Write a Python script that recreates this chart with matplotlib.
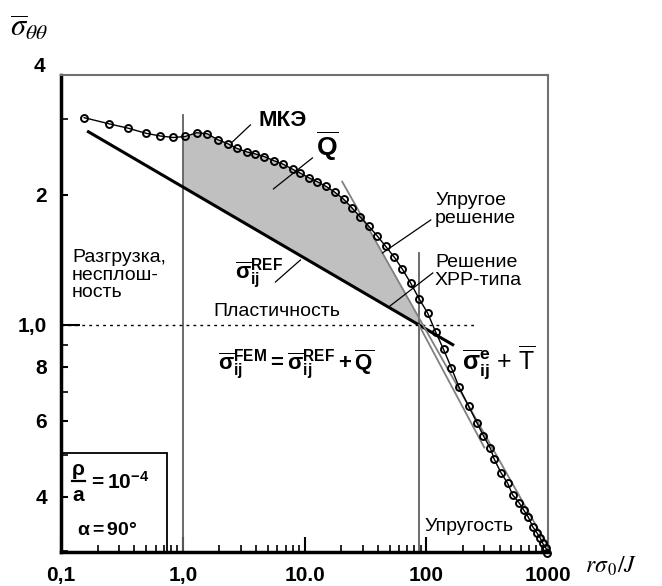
import matplotlib
matplotlib.use('Agg')
import matplotlib.pyplot as plt
import numpy as np
from matplotlib.patches import Rectangle

plt.rcParams['font.family'] = ['Liberation Sans', 'DejaVu Sans']
plt.rcParams['mathtext.fontset'] = 'custom'
plt.rcParams['mathtext.rm'] = 'Liberation Sans'
plt.rcParams['mathtext.it'] = 'Liberation Sans:italic'
plt.rcParams['mathtext.bf'] = 'Liberation Sans:bold'

# FEM (МКЭ) points
fem_x = [0.155, 0.250, 0.358, 0.498, 0.653, 0.835, 1.049, 1.304, 1.591, 1.930,
         2.333, 2.767, 3.363, 3.951, 4.686, 5.620, 6.653, 7.998, 9.20, 10.85,
         12.72, 15.03, 17.73, 20.94, 24.51, 28.51, 33.82, 39.44, 46.42, 54.84,
         63.7, 74.6, 87.3, 102.9, 119.7, 138.6, 161.2, 186.2, 222.5, 260.4,
         294.5, 336.3, 361.4, 410.5, 466.0, 512.2, 580.4, 631.0, 688.5, 748.4,
         811.8, 864.4, 904.6, 962.7, 981.0]
fem_y = [3.019, 2.920, 2.853, 2.778, 2.738, 2.716, 2.731, 2.786, 2.771, 2.686,
         2.630, 2.565, 2.515, 2.488, 2.453, 2.400, 2.357, 2.293, 2.248, 2.191,
         2.146, 2.093, 2.029, 1.955, 1.867, 1.781, 1.691, 1.609, 1.520, 1.433,
         1.346, 1.249, 1.150, 1.064, 0.962, 0.878, 0.794, 0.717, 0.649, 0.594,
         0.554, 0.518, 0.489, 0.455, 0.430, 0.404, 0.387, 0.373, 0.359, 0.341,
         0.330, 0.321, 0.312, 0.304, 0.297]

# HRR-type reference solution (power law, end points)
ref_x = [0.168, 165.0]
ref_y = [2.80, 0.90]

# elastic solution (power law, end points)
el_x = [20.4, 1000.0]
el_y = [2.146, 0.3066]

# elastic + T line
et_x = [87.0, 300.0]
et_y = [1.0, 0.52]

x_ticks = [0.1, 1.0, 10.0, 100.0, 1000.0]
x_tick_labels = ['0,1', '1,0', '10.0', '100', '1000']
y_ticks = [0.4, 0.6, 0.8, 1.0, 2.0]
y_tick_labels = ['4', '6', '8', '1,0', '2']

x_left = 1.0
x_right = 87.0


def power_line(xs, ys, x):
    lx = np.log10(xs)
    ly = np.log10(ys)
    k = (ly[1] - ly[0]) / (lx[1] - lx[0])
    return 10 ** (ly[0] + k * (np.log10(x) - lx[0]))


fig = plt.figure(figsize=(6.62, 5.86), dpi=100)
ax = fig.add_axes([61 / 662, 34 / 586, 487 / 662, 477 / 586])
ax.set_xscale('log')
ax.set_yscale('log')
ax.set_xlim(0.1, 1000)
ax.set_ylim(0.298, 3.79)

# shaded region between FEM curve (capped by elastic line) and REF line
gx = np.logspace(np.log10(x_left), np.log10(97.6), 300)
fem_i = 10 ** np.interp(np.log10(gx), np.log10(fem_x), np.log10(fem_y))
top = np.minimum(fem_i, power_line(el_x, el_y, gx))
bot = power_line(ref_x, ref_y, gx)
ax.fill_between(gx, bot, top, where=top >= bot, color='#c0c0c0', lw=0, zorder=1)

ax.plot(ref_x, ref_y, color='black', lw=2.2, zorder=3)
ax.plot(el_x, el_y, color='#808080', lw=1.3, zorder=3)
ax.plot(et_x, et_y, color='#808080', lw=1.3, zorder=3)
ax.plot(fem_x, fem_y, color='black', lw=1.0, marker='o', ms=5, mfc='none',
        mec='black', mew=1.4, zorder=4, clip_on=False)

ax.plot([x_left, x_left], [0.298, 3.06], color='#606060', lw=1.3, zorder=2)
ax.plot([x_right, x_right], [0.298, 1.468], color='#606060', lw=1.3, zorder=2)
ax.plot([0.1, 255], [1.0, 1.0], color='black', lw=1.0, ls=(0, (2, 3)), zorder=2)

# pointer lines
for (x0, y0), (x1, y1) in [((3.594, 2.904), (2.555, 2.652)),
                           ((11.63, 2.436), (5.56, 2.065)),
                           ((9.27, 1.414), (5.77, 1.257)),
                           ((108.9, 1.75), (43.8, 1.468)),
                           ((113.1, 1.319), (49.1, 1.10))]:
    ax.plot([x0, x1], [y0, y1], color='black', lw=0.9, zorder=5)

ax.set_xticks(x_ticks)
ax.set_xticklabels(x_tick_labels)
ax.set_yticks(y_ticks)
ax.set_yticklabels(y_tick_labels)
ax.yaxis.set_minor_locator(matplotlib.ticker.FixedLocator([0.3, 0.5, 0.7, 0.9, 3.0]))
ax.yaxis.set_minor_formatter(matplotlib.ticker.NullFormatter())
ax.tick_params(which='major', direction='in', length=11, width=1.5,
               labelsize=15, pad=10)
ax.tick_params(which='minor', direction='in', length=5, width=1.2)
ax.tick_params(axis='y', which='major', length=5)
ax.yaxis.get_major_ticks()[3].tick1line.set_markersize(14)
for lab in ax.get_xticklabels() + ax.get_yticklabels():
    lab.set_fontweight('bold')

ax.spines['left'].set_linewidth(2.5)
ax.spines['bottom'].set_linewidth(2.5)
for s in ['top', 'right']:
    ax.spines[s].set_linewidth(1.5)
    ax.spines[s].set_color('#707070')

fig.text(45 / 662, (586 - 67) / 586, '4', ha='right', va='center',
         fontsize=15, fontweight='bold')

# labels
t = dict(transform=ax.transAxes)
ax.text(0.456, 0.904, 'МКЭ', ha='center', va='center', fontsize=16,
        fontweight='bold', **t)
ax.text(0.546, 0.851, r'$\mathbf{\overline{Q}}$', ha='center', va='center',
        fontsize=19, **t)
ax.text(0.357, 0.583, r'$\mathbf{\overline{\sigma}_{ij}^{REF}}$', ha='left',
        va='center', fontsize=16, **t)
ax.text(0.768, 0.755, 'Упругое\nрешение', ha='left', va='top', fontsize=14,
        linespacing=1.1, **t)
ax.text(0.768, 0.625, 'Решение\nХРР-типа', ha='left', va='top', fontsize=14,
        linespacing=1.1, **t)
ax.text(0.312, 0.505, 'Пластичность', ha='left', va='center', fontsize=14, **t)
ax.text(0.0226, 0.635, 'Разгрузка,\nнесплош-\nность', ha='left', va='top',
        fontsize=14, linespacing=1.05, **t)
ax.text(0.322, 0.396,
        r'$\mathbf{\overline{\sigma}_{ij}^{FEM} = \overline{\sigma}_{ij}^{REF} + \overline{Q}}$',
        ha='left', va='center', fontsize=16, **t)
ax.text(0.823, 0.398, r'$\mathbf{\overline{\sigma}_{ij}^{e}}$ + $\overline{\mathrm{T}}$',
        ha='left', va='center', fontsize=18, **t)
ax.text(0.747, 0.0545, 'Упругость', ha='left', va='center', fontsize=14, **t)

# parameter box
ax.add_patch(Rectangle((0, 0), 0.218, 0.2075, transform=ax.transAxes,
                       fill=False, ec='black', lw=1.3, zorder=6))
ax.text(0.036, 0.172, 'ρ', ha='center', va='center', fontsize=15,
        fontweight='bold', **t)
ax.plot([0.022, 0.050], [0.148, 0.148], color='black', lw=1.6, transform=ax.transAxes)
ax.text(0.036, 0.118, 'a', ha='center', va='center', fontsize=15,
        fontweight='bold', **t)
ax.text(0.055, 0.148, r'$\mathbf{= 10^{-4}}$', ha='left', va='center',
        fontsize=15, **t)
ax.text(0.033, 0.046, r'$\mathbf{\alpha = 90\degree}$', ha='left', va='center',
        fontsize=14, **t)

fig.text(10 / 662, (586 - 28) / 586, r'$\overline{\sigma}_{\theta\theta}$',
         ha='left', va='center', fontsize=22, math_fontfamily='stix')
fig.text(585 / 662, (586 - 566) / 586, r'$r\sigma_{\,0}/J$', ha='left',
         va='center', fontsize=17, math_fontfamily='stix')

fig.savefig('out.png', dpi=100)
